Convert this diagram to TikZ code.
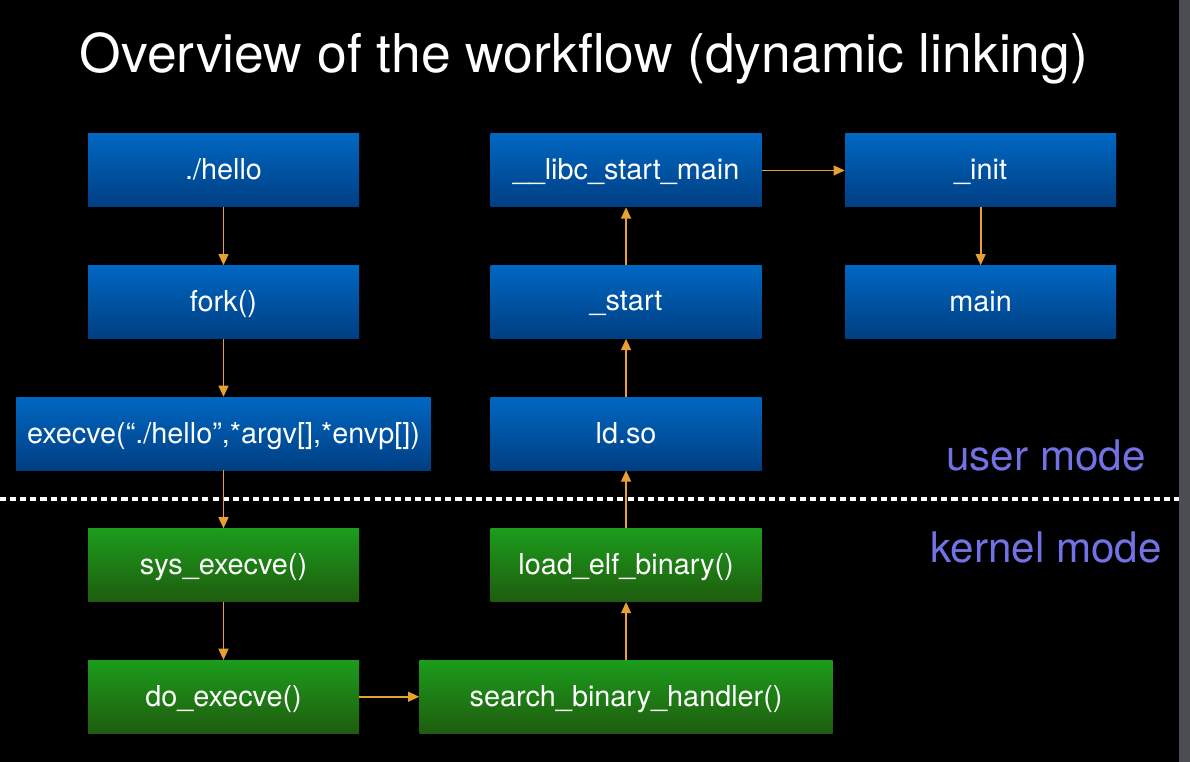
\documentclass[tikz,border=0pt]{standalone}
\usepackage{fontspec}
\setmainfont{TeX Gyre Heros}
\usepackage{xcolor}
\usepackage{tikz}
\usetikzlibrary{
	arrows.meta,
	positioning
}

\definecolor{bluetop}{HTML}{0067C2}
\definecolor{bluebot}{HTML}{003E82}
\definecolor{greentop}{HTML}{1C9C1C}
\definecolor{greenbot}{HTML}{1F5C0E}
\definecolor{flowarrow}{HTML}{E8A030}
\definecolor{modetext}{HTML}{7272E6}
\definecolor{sidebar}{HTML}{4A4E52}

\tikzset{
	userbox/.style={rectangle, top color=bluetop, bottom color=bluebot, draw=none,
		minimum width=6.775cm, minimum height=1.825cm, inner sep=0pt,
		text=white, font=\fontsize{20.5}{24}\selectfont, text depth=0.3ex},
	kernelbox/.style={userbox, top color=greentop, bottom color=greenbot},
	flow/.style={-{Triangle[length=8pt,width=7pt]}, draw=flowarrow, line width=1.3pt},
	modelabel/.style={text=modetext, font=\fontsize{30}{36}\selectfont}
}

\begin{document}
\begin{tikzpicture}[node distance=1.45cm]
		% 背景
		\useasboundingbox (0,0) rectangle (29.75,19.05);
		\fill[black] (0,0) rectangle (29.75,19.05);
		\fill[sidebar] (29.475,0) rectangle (29.75,19.05);
		
		% 标题
		\node[text=white, font=\fontsize{38}{45}\selectfont] (title) at (14.6,17.6)
			{Overview of the workflow (dynamic linking)};
		
		% 左列
		\node[userbox] (hello) at (5.5875,14.7875) {./hello};
		\node[userbox, below=of hello] (fork) {fork()};
		\node[userbox, below=of fork, minimum width=10.35cm] (execve)
			{execve(“./hello”,*argv[],*envp[])};
		\node[kernelbox, below=of execve] (sysexecve) {sys\_execve()};
		\node[kernelbox, below=of sysexecve] (doexecve) {do\_execve()};
		
		% 中列
		\node[kernelbox, right=1.5cm of doexecve, minimum width=10.325cm] (search)
			{search\_binary\_handler()};
		\node[kernelbox, above=of search] (loadelf) {load\_elf\_binary()};
		\node[userbox, above=of loadelf] (ldso) {ld.so};
		\node[userbox, above=of ldso] (start) {\_start};
		\node[userbox, above=of start] (libc) {\_\_libc\_start\_main};
		
		% 右列
		\node[userbox, right=2.075cm of libc] (init) {\_init};
		\node[userbox, below=of init] (main) {main};
		
		% 用户态 / 内核态
		\draw[white, line width=2.2pt, dash pattern=on 4.3pt off 2.9pt] (0,6.575) -- (29.475,6.575);
		\node[modelabel] (user) at (26.15,7.675) {user mode};
		\node[modelabel] (kernel) at (26.15,5.375) {kernel mode};
		
		% 箭头
		\foreach \a/\b in {hello/fork,fork/execve,execve/sysexecve,sysexecve/doexecve,
			search/loadelf,loadelf/ldso,ldso/start,start/libc,init/main}
		\draw[flow] (\a) -- (\b);
		\draw[flow] (doexecve) -- (search);
		\draw[flow] (libc) -- (init);
	\end{tikzpicture}
\end{document}
